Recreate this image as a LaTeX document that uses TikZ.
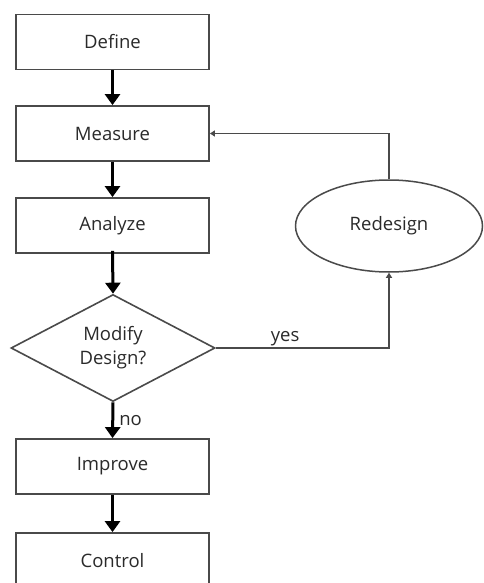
\documentclass[tikz,border=0pt]{standalone}
\usepackage{fontspec}
\setmainfont{Open Sans}
\usetikzlibrary{arrows.meta,shapes.geometric}
\definecolor{edge}{HTML}{4A4A4A}
\definecolor{txt}{HTML}{2A2A2A}
\begin{document}
\begin{tikzpicture}[x=1pt,y=-1pt,
  box/.style={draw=edge,line width=1.8pt,minimum width=193pt,minimum height=55pt,inner sep=0pt,text=txt,font=\fontsize{18.5}{22}\selectfont},
  thick arrow/.style={line width=3pt,-{Triangle[width=15pt,length=11pt]}},
  thin arrow/.style={draw=edge,line width=1.6pt,-{Triangle[width=6pt,length=5pt]}},
  lbl/.style={text=txt,font=\fontsize{18.5}{22}\selectfont,inner sep=1pt}]
\useasboundingbox (0,0) rectangle (483,583);
\fill[white] (0,0) rectangle (483,583);
\node[box] (define) at (112.5,42) {Define};
\node[box] (measure) at (112.5,133.5) {Measure};
\node[box] (analyze) at (112.5,225.5) {Analyze};
\node[draw=edge,line width=1.6pt,diamond,aspect=1.9,minimum width=204pt,minimum height=107pt,inner sep=0pt,text=txt,font=\fontsize{18.5}{24}\selectfont,align=center] (modify) at (113,348) {Modify\\Design?};
\node[box] (improve) at (112.5,466.5) {Improve};
\node[box] (control) at (112.5,560.5) {Control};
\node[draw=edge,line width=1.5pt,ellipse,minimum width=187pt,minimum height=92pt,inner sep=0pt,text=txt,font=\fontsize{18.5}{22}\selectfont] (redesign) at (389,226) {Redesign};
\draw[thick arrow] (define.south) -- (measure.north);
\draw[thick arrow] (measure.south) -- (analyze.north);
\draw[thick arrow] ([yshift=3pt]analyze.south) -- (modify.north);
\draw[thick arrow] (modify.south) -- node[lbl,right=4pt] {no} (improve.north);
\draw[thick arrow] (improve.south) -- (control.north);
\coordinate (c1) at (redesign.south |- modify.east);
\draw[thin arrow] (modify.east) -- node[lbl,above,pos=0.4] {yes} (c1) -- (redesign.south);
\draw[thin arrow] (redesign.north) |- (measure.east);
\end{tikzpicture}
\end{document}
